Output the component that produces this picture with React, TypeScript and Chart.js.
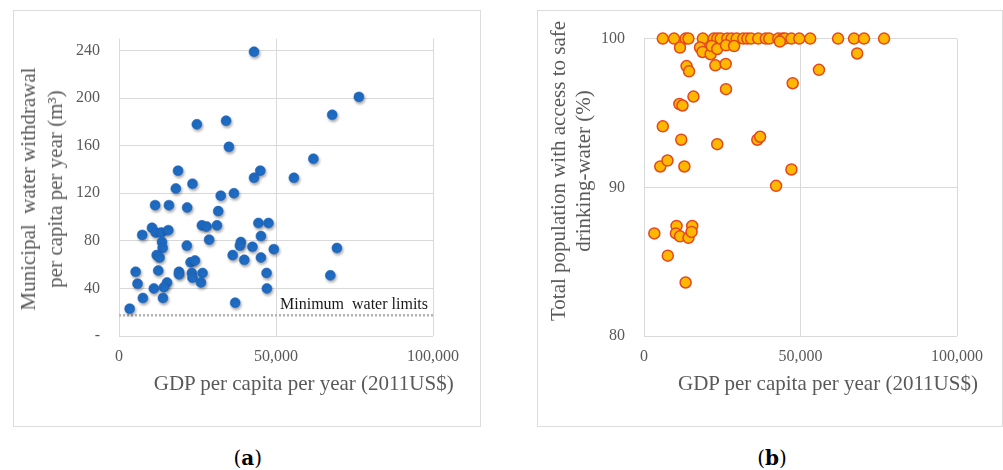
import React, { useEffect, useRef } from "react";
import { Chart, registerables } from "chart.js";

Chart.register(...registerables);

// (a) municipal water withdrawal per capita (m3) vs GDP per capita
const GDP_A = [
  43000, 76400, 67900, 24800, 34100, 35000, 61900, 18800, 45000, 43000,
  55700, 18100, 23400, 32400, 36600, 11500, 15900, 21700, 31600, 10500,
  26400, 27900, 31200, 44400, 47600, 7400, 11700, 13500, 15700, 13700,
  13900, 28700, 45200, 12000, 12900, 21600, 38800, 38500, 42500, 49300,
  69400, 36200, 39900, 45200, 22800, 24200, 5300, 12500, 19100, 19100,
  23200, 23400, 26600, 26100, 47000, 67300, 5900, 11100, 15300, 14300,
  47100, 7600, 14000, 37000, 3400,
];
const WATER_A = [
  239, 201, 186, 178, 181, 159, 149, 139, 139, 133,
  133, 124, 128, 118, 120, 110, 110, 108, 105, 91,
  93, 92, 93, 95, 95, 85, 87, 87, 89, 79,
  74, 81, 84, 68, 66, 76, 79, 76, 75, 73,
  74, 68, 64, 66, 62, 63.5, 54, 55, 54, 52,
  53, 49, 53, 45, 53, 51, 44, 40, 45, 41,
  40, 32, 32, 28, 23,
];
const MIN_WATER = 17.4;
const MIN_WATER_LABEL = "Minimum  water limits";

// (b) population with access to safe drinking-water (%) vs GDP per capita
const GDP_B = [
  6000, 9600, 13300, 14200, 18800, 22300, 23400, 24500, 26600, 28000,
  29600, 31700, 33000, 34200, 36500, 38900, 40000, 42900, 44300, 45000,
  47100, 49600, 53100, 62000, 67100, 70300, 76700,
  11500, 17900, 18700, 21300, 21600, 23400, 26200, 28800, 43400, 68100,
  13600, 14400, 22800, 26100, 26200, 15800, 47500, 55900, 11300, 12300,
  6000, 11900, 23400, 36200, 37100, 5200, 7500, 12900, 47100, 42200,
  3300, 10400, 10200, 11500, 14200, 15400, 15200, 7600, 13300,
];
const ACCESS_B = [
  100, 100, 100, 100, 100, 100, 100, 100, 100, 100,
  100, 100, 100, 100, 100, 100, 100, 100, 100, 100,
  100, 100, 100, 100, 100, 100, 100,
  99.4, 99.4, 99.1, 98.95, 99.5, 99.3, 99.55, 99.5, 99.8, 99.0,
  98.15, 97.8, 98.2, 98.3, 96.6, 96.1, 97.0, 97.9, 95.6, 95.5,
  94.1, 93.2, 92.9, 93.2, 93.4, 91.4, 91.8, 91.4, 91.2, 90.1,
  86.9, 87.4, 86.9, 86.7, 86.6, 87.4, 87.0, 85.4, 83.6,
];

const X_TICKS = [0, 50000, 100000];
const Y_TICKS_A = [0, 40, 80, 120, 160, 200, 240];
const Y_TICKS_B = [80, 90, 100];

const SERIF = "'Liberation Serif', 'Times New Roman', serif";
const GRID = "#d9d9d9";
const TEXT = "#595959";

Chart.defaults.font.family = SERIF;
Chart.defaults.font.size = 16;
Chart.defaults.color = TEXT;

const toPoints = (xs: number[], ys: number[]) => xs.map((x, i) => ({ x, y: ys[i] }));

const shadowPlugin = {
  id: "pointShadow",
  beforeDatasetDraw(chart: any, args: any) {
    if (args.index !== 0) return;
    const ctx = chart.ctx;
    ctx.save();
    ctx.shadowColor = "rgba(0,0,0,0.35)";
    ctx.shadowBlur = 3;
    ctx.shadowOffsetX = 1;
    ctx.shadowOffsetY = 2;
  },
  afterDatasetDraw(chart: any, args: any) {
    if (args.index !== 0) return;
    chart.ctx.restore();
  },
};

const minLabelPlugin = {
  id: "minLabel",
  afterDatasetsDraw(chart: any) {
    const { ctx, scales } = chart;
    const x = scales.x.getPixelForValue(X_TICKS[2]) - 5;
    const y = scales.y.getPixelForValue(MIN_WATER) - 11;
    ctx.save();
    ctx.font = `16px ${SERIF}`;
    ctx.fillStyle = "#1a1a1a";
    ctx.textAlign = "right";
    ctx.textBaseline = "middle";
    ctx.fillText(MIN_WATER_LABEL, x, y);
    ctx.restore();
  },
};

function axes(yTicks: number[], yMin: number, yMax: number, yWidth: number, yLabel: (v: number) => string) {
  const tickFont = () => ({ family: SERIF, size: 16 });
  return {
    x: {
      type: "linear" as const,
      min: X_TICKS[0],
      max: X_TICKS[X_TICKS.length - 1],
      afterBuildTicks: (s: any) => {
        s.ticks = X_TICKS.map((value) => ({ value }));
      },
      afterFit: (s: any) => {
        s.height = 91;
      },
      grid: { color: GRID, drawTicks: false },
      border: { display: false },
      ticks: {
        padding: 11,
        color: TEXT,
        font: tickFont(),
        maxRotation: 0,
        autoSkip: false,
        callback: (v: any) => Number(v).toLocaleString("en-US"),
      },
    },
    y: {
      type: "linear" as const,
      min: yMin,
      max: yMax,
      afterBuildTicks: (s: any) => {
        s.ticks = yTicks.map((value) => ({ value }));
      },
      afterFit: (s: any) => {
        s.width = yWidth;
      },
      grid: { color: GRID, drawTicks: false },
      border: { display: false },
      ticks: {
        padding: 19,
        color: TEXT,
        font: tickFont(),
        autoSkip: false,
        callback: (v: any) => yLabel(Number(v)),
      },
    },
  };
}

const PanelA: React.FC = () => {
  const ref = useRef<HTMLCanvasElement>(null);
  useEffect(() => {
    if (!ref.current) return;
    const chart = new Chart(ref.current, {
      type: "scatter",
      data: {
        datasets: [
          {
            data: toPoints(GDP_A, WATER_A),
            backgroundColor: "#1f6cc4",
            borderColor: "#1a63b8",
            borderWidth: 0.5,
            pointRadius: 5,
            clip: false,
          },
          {
            type: "line",
            data: [
              { x: X_TICKS[0], y: MIN_WATER },
              { x: X_TICKS[2], y: MIN_WATER },
            ],
            borderColor: "#b3b3b3",
            borderWidth: 2.5,
            borderDash: [2, 2],
            pointRadius: 0,
          },
        ],
      } as any,
      options: {
        animation: false,
        responsive: true,
        maintainAspectRatio: false,
        layout: { padding: { top: 18, right: 48, left: 0, bottom: 0 } },
        plugins: { legend: { display: false }, tooltip: { enabled: false } },
        scales: axes(Y_TICKS_A, 0, 250, 106, (v) => (v === 0 ? "-" : String(v))),
      },
      plugins: [shadowPlugin, minLabelPlugin],
    });
    return () => chart.destroy();
  }, []);
  return <canvas ref={ref} />;
};

const PanelB: React.FC = () => {
  const ref = useRef<HTMLCanvasElement>(null);
  useEffect(() => {
    if (!ref.current) return;
    const chart = new Chart(ref.current, {
      type: "scatter",
      data: {
        datasets: [
          {
            data: toPoints(GDP_B, ACCESS_B),
            backgroundColor: "#ffb800",
            borderColor: "#e5461c",
            borderWidth: 1.5,
            pointRadius: 5.5,
            clip: false,
          },
        ],
      } as any,
      options: {
        animation: false,
        responsive: true,
        maintainAspectRatio: false,
        layout: { padding: { top: 18, right: 46, left: 0, bottom: 0 } },
        plugins: { legend: { display: false }, tooltip: { enabled: false } },
        scales: axes(Y_TICKS_B, 80, 100, 107, (v) => String(v)),
      },
    });
    return () => chart.destroy();
  }, []);
  return <canvas ref={ref} />;
};

const titleStyle = (cx: number, cy: number, rotate: boolean, lineHeight = 24): React.CSSProperties => ({
  position: "absolute",
  left: cx,
  top: cy,
  transform: rotate ? "translate(-50%, -50%) rotate(-90deg)" : "translate(-50%, -50%)",
  whiteSpace: "nowrap",
  textAlign: "center",
  font: `21px ${SERIF}`,
  lineHeight: `${lineHeight}px`,
  color: TEXT,
});

const panelBox = (left: number, width: number): React.CSSProperties => ({
  position: "absolute",
  left,
  top: 10,
  width,
  height: 417,
  boxSizing: "border-box",
  border: "1px solid #dcdcdc",
});

const captionStyle = (cx: number): React.CSSProperties => ({
  position: "absolute",
  left: cx,
  top: 458,
  transform: "translate(-50%, -50%)",
  font: '20px "DejaVu Serif", serif',
  color: "#000",
});

export default function App() {
  return (
    <div style={{ position: "absolute", left: 0, top: 0, width: 1003, height: 470, background: "#fff", overflow: "hidden" }}>
      <div style={panelBox(13, 468)} />
      <div style={{ position: "absolute", left: 13, top: 10, width: 468, height: 417 }}>
        <PanelA />
      </div>
      <div style={titleStyle(41.5, 189, true, 27)}>
        Municipal&nbsp; water withdrawal
        <br />
        per capita per year (m³)
      </div>
      <div style={titleStyle(303.7, 383, false)}>GDP per capita per year (2011US$)</div>

      <div style={panelBox(537, 466)} />
      <div style={{ position: "absolute", left: 537, top: 10, width: 466, height: 417 }}>
        <PanelB />
      </div>
      <div style={titleStyle(570.5, 171, true, 25)}>
        Total population with access to safe
        <br />
        drinking-water (%)
      </div>
      <div style={titleStyle(828, 383, false)}>GDP per capita per year (2011US$)</div>

      <div style={captionStyle(247.7)}>
        (<b>a</b>)
      </div>
      <div style={captionStyle(772)}>
        (<b>b</b>)
      </div>
    </div>
  );
}
